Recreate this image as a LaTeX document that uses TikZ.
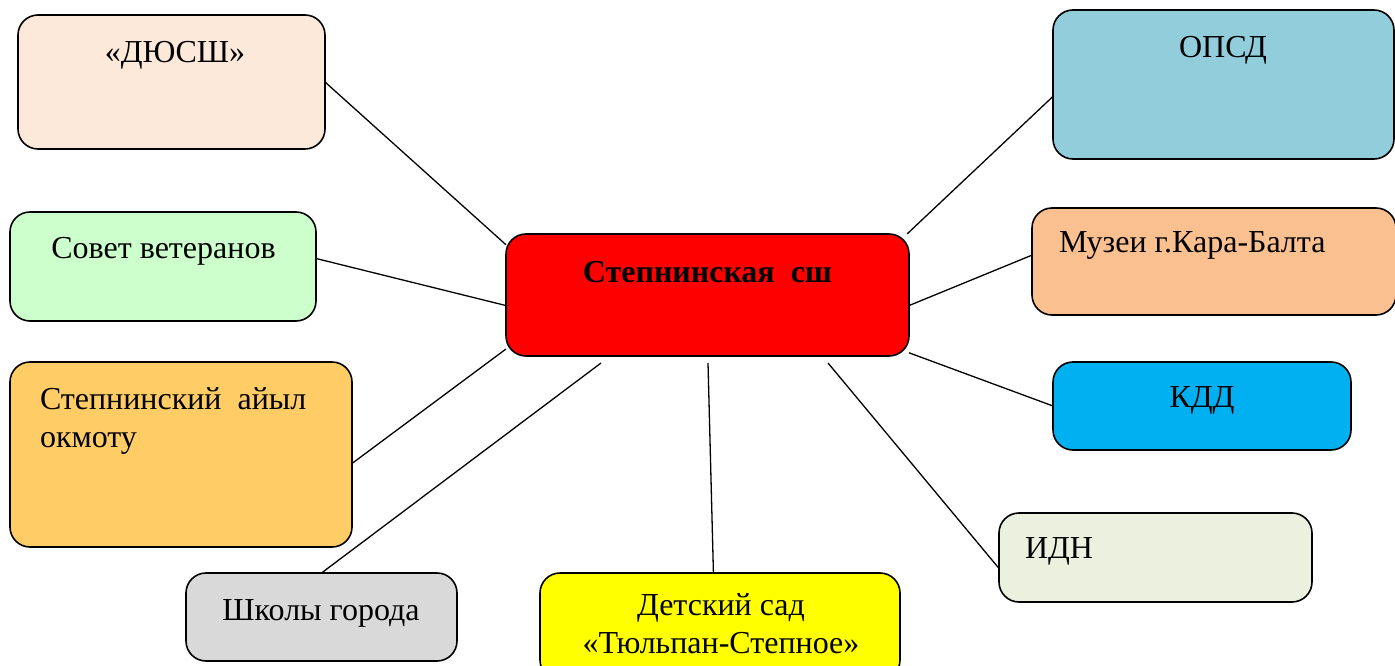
\documentclass[tikz,border=0pt]{standalone}
\usepackage{fontspec}
\setmainfont{Liberation Serif}

\definecolor{dyusshfill}{HTML}{FDE9D9}
\definecolor{sovetfill}{HTML}{CCFFCC}
\definecolor{ayylfill}{HTML}{FFCC66}
\definecolor{shkolyfill}{HTML}{D9D9D9}
\definecolor{sadfill}{HTML}{FFFF00}
\definecolor{idnfill}{HTML}{EBF1DE}
\definecolor{kddfill}{HTML}{00B0F0}
\definecolor{muzeifill}{HTML}{FAC090}
\definecolor{opsdfill}{HTML}{92CDDC}

\begin{document}
\begin{tikzpicture}[
            x=1pt, y=-1pt,
            every node/.style={font=\fontsize{32}{38}\selectfont, inner sep=0pt, outer sep=0pt},
            box/.style={rectangle, draw=black, line width=1.6pt, rounded corners=20pt},
            hub/.style={box, fill=red},
            txt/.style={anchor=base},
            link/.style={line width=1.3pt, color=black}
        ]
        \useasboundingbox (0,0) rectangle (1395,666);

        % boxes
        \node[hub, minimum width=403pt, minimum height=122pt] (center) at (707.5,295) {};
        \node[box, fill=dyusshfill, minimum width=307pt, minimum height=134pt] (dyussh) at (171.5,82) {};
        \node[box, fill=sovetfill, minimum width=306pt, minimum height=109pt] (sovet) at (163,266.5) {};
        \node[box, fill=ayylfill, minimum width=342pt, minimum height=185pt] (ayyl) at (181,454.5) {};
        \node[box, fill=shkolyfill, minimum width=271pt, minimum height=88pt] (shkoly) at (321.5,617) {};
        \node[box, fill=sadfill, minimum width=360pt, minimum height=107pt] (sad) at (720,626.5) {};
        \node[box, fill=idnfill, minimum width=313pt, minimum height=89pt] (idn) at (1155.5,557.5) {};
        \node[box, fill=kddfill, minimum width=298pt, minimum height=88pt] (kdd) at (1202,406) {};
        \node[box, fill=muzeifill, minimum width=364pt, minimum height=107pt] (muzei) at (1214,261.5) {};
        \node[box, fill=opsdfill, minimum width=341pt, minimum height=149pt] (opsd) at (1223.5,84.5) {};

        % texts (base of a two-line node is its last line)
        \node[txt, font=\fontsize{32}{38}\selectfont\bfseries] (centertxt) at (707.5,282) {Степнинская\ \ сш};
        \node[txt] (dyusshtxt) at (175,63) {«ДЮСШ»};
        \node[txt] (sovettxt) at (163.5,258) {Совет ветеранов};
        \node[txt, anchor=base west, align=left] (ayyltxt) at (40,447) {Степнинский\ \ айыл\\окмоту};
        \node[txt] (shkolytxt) at (321,620) {Школы города};
        \node[txt, align=center] (sadtxt) at (721,653) {Детский сад\\«Тюльпан-Степное»};
        \node[txt, anchor=base west] (idntxt) at (1025,558) {ИДН};
        \node[txt] (kddtxt) at (1202,407) {КДД};
        \node[txt, anchor=base west] (muzeitxt) at (1059,252) {Музеи г.Кара-Балта};
        \node[txt] (opsdtxt) at (1223,58) {ОПСД};

        % free ends below the centre box
        \coordinate (shkolyend) at (601,363);
        \coordinate (sadend) at (708,363);
        \coordinate (idnend) at (828,363);

        \draw[link] (dyussh.east) -- (center.166);
        \draw[link] (sovet.3.5) -- (center.183);
        \draw[link] (ayyl.-3) -- (center.195);
        \draw[link] (shkoly.north) -- (shkolyend);
        \draw[link] (sad.97.5) -- (sadend);
        \draw[link] (idn.184.6) -- (idnend);
        \draw[link] (kdd.west) -- (center.-16);
        \draw[link] (muzei.178) -- (center.-3);
        \draw[link] (opsd.184) -- (center.17);

    \end{tikzpicture}
\end{document}
